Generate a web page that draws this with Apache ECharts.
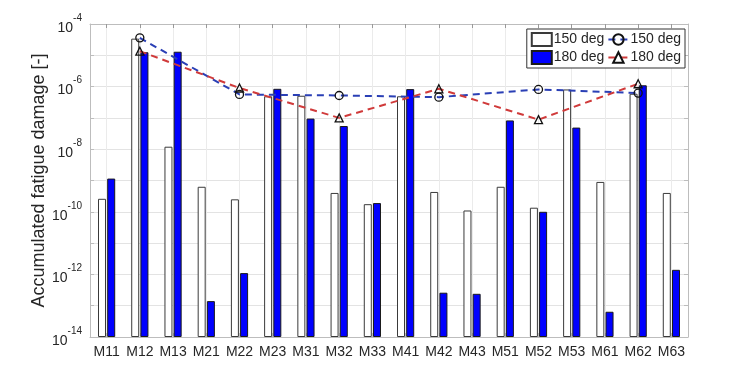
<!DOCTYPE html>
<html>
<head>
<meta charset="utf-8">
<script src="https://cdn.jsdelivr.net/npm/echarts@6/dist/echarts.min.js"></script>
<style>html,body{margin:0;padding:0;background:#fff}#c{width:729px;height:373px}</style>
</head>
<body>
<div id="c"></div>
<script>
const categories = ['M11','M12','M13','M21','M22','M23','M31','M32','M33','M41','M42','M43','M51','M52','M53','M61','M62','M63'];
const bar150 = [2.6e-10, 3.4e-5, 1.2e-8, 6.3e-10, 2.5e-10, 4.9e-7, 5.1e-7, 4.0e-10, 1.75e-10, 4.9e-7, 4.3e-10, 1.1e-10, 6.3e-10, 1.35e-10, 8.1e-7, 9.0e-10, 5.9e-7, 4.0e-10];
const bar180 = [1.15e-9, 1.25e-5, 1.3e-5, 1.4e-13, 1.1e-12, 8.5e-7, 9.5e-8, 5.5e-8, 1.9e-10, 8.3e-7, 2.6e-13, 2.4e-13, 8.3e-8, 1.0e-10, 4.9e-8, 6.4e-14, 1.1e-6, 1.4e-12];
const lineCats = ['M12','M22','M32','M42','M52','M62'];
const line150 = [3.6e-5, 5.6e-7, 5.2e-7, 4.6e-7, 8.1e-7, 6.2e-7];
const line180 = [1.35e-5, 9.0e-7, 1.0e-7, 8.5e-7, 8.8e-8, 1.23e-6];
const legendNames = {'bar150':'150 deg','line150':'150 deg','bar180':'180 deg','line180':'180 deg'};

// minor grid positions (2..9 x 10^n)
const minorGrid = [];
for (let e = -14; e < -4; e++) {
  for (let m = 2; m <= 9; m++) minorGrid.push({yAxis: m * Math.pow(10, e)});
}

const chart = echarts.init(document.getElementById('c'), null, {renderer: 'canvas'});
const font = 'Liberation Sans, Arial, Helvetica, sans-serif';
const yLabel = {
  color: '#262626', fontFamily: font, margin: 8,
  formatter: function (v) {
    const e = Math.round(Math.log10(v));
    if (e % 2 !== 0) return '';
    return '{b|10}{s|' + e + '}';
  },
  rich: {
    b: {fontSize: 14, fontFamily: font, color: '#262626', lineHeight: 22, verticalAlign: 'bottom'},
    s: {fontSize: 10, fontFamily: font, color: '#262626', lineHeight: 22, verticalAlign: 'top'}
  }
};
const yMin = 1e-14, yMax = 0.999e-4;
chart.setOption({
  animation: false,
  backgroundColor: '#fff',
  textStyle: {fontFamily: font},
  grid: {left: 90, right: 41, top: 24, bottom: 36, containLabel: false},
  legend: {
    right: 44, top: 29, width: 164, orient: 'horizontal',
    data: [{name: 'bar150', icon: 'rect'}, {name: 'line150'}, {name: 'bar180', icon: 'rect'}, {name: 'line180'}],
    formatter: function (n) { return legendNames[n]; },
    backgroundColor: '#fff', borderColor: '#333', borderWidth: 1, borderRadius: 0,
    padding: [3, 4, 3, 4], itemGap: 3, itemWidth: 20, itemHeight: 13,
    textStyle: {fontSize: 14, color: '#262626', fontFamily: font, padding: [0, 0, 0, -3]}
  },
  xAxis: [{
    type: 'category', data: categories, position: 'bottom',
    axisLine: {show: true, lineStyle: {color: '#bdbdbd'}},
    axisTick: {show: true, inside: true, alignWithLabel: true, length: 4, lineStyle: {color: '#bdbdbd'}},
    axisLabel: {color: '#262626', fontSize: 14, fontFamily: font, margin: 8, interval: 0},
    splitLine: {show: true, alignWithLabel: true, lineStyle: {color: '#ebebeb'}}
  }, {
    type: 'category', data: categories, position: 'top',
    axisLine: {show: true, lineStyle: {color: '#bdbdbd'}},
    axisTick: {show: true, inside: true, alignWithLabel: true, length: 4, lineStyle: {color: '#999'}},
    axisLabel: {show: false}, splitLine: {show: false}
  }],
  yAxis: [{
    type: 'log', logBase: 10, min: yMin, max: yMax, startValue: yMin, splitNumber: 10,
    name: 'Accumulated fatigue damage [-]', nameLocation: 'middle', nameGap: 42, nameMoveOverlap: false,
    nameTextStyle: {fontSize: 18, color: '#262626', fontFamily: font},
    axisLine: {show: true, lineStyle: {color: '#bdbdbd'}},
    axisTick: {show: true, inside: true, length: 4, lineStyle: {color: '#bdbdbd'}},
    axisLabel: yLabel,
    splitLine: {show: true, lineStyle: {color: '#e3e3e3'}}
  }, {
    type: 'log', logBase: 10, min: yMin, max: yMax, splitNumber: 10, position: 'right',
    axisLine: {show: true, lineStyle: {color: '#bdbdbd'}},
    axisTick: {show: true, inside: true, length: 4, lineStyle: {color: '#bdbdbd'}},
    axisLabel: {show: false}, splitLine: {show: false}
  }],
  series: [{
    type: 'line', name: 'grid', data: [], z: 0, silent: true,
    markLine: {silent: true, symbol: 'none', label: {show: false},
      lineStyle: {color: '#f2f2f2', type: 'solid', width: 1}, data: minorGrid}
  }, {
    type: 'bar', name: 'bar150', data: bar150, barWidth: 8, barGap: '15%', z: 2,
    itemStyle: {color: '#ffffff', borderColor: '#3a3a3a', borderWidth: 1}
  }, {
    type: 'bar', name: 'bar180', data: bar180, barWidth: 8, barGap: '15%', z: 2,
    itemStyle: {color: '#0000ff', borderColor: '#1a1a1a', borderWidth: 1}
  }, {
    type: 'line', name: 'line150', z: 4,
    data: lineCats.map((c, i) => [c, line150[i]]),
    symbol: 'circle', symbolSize: 8,
    lineStyle: {color: '#2a3fb5', width: 2, type: [7, 5]},
    itemStyle: {color: 'rgba(255,255,255,0)', borderColor: '#111', borderWidth: 1.3}
  }, {
    type: 'line', name: 'line180', z: 4,
    data: lineCats.map((c, i) => [c, line180[i]]),
    symbol: 'triangle', symbolSize: 8,
    lineStyle: {color: '#d03a3a', width: 2, type: [7, 5]},
    itemStyle: {color: 'rgba(255,255,255,0)', borderColor: '#111', borderWidth: 1.3}
  }]
});
</script>
</body>
</html>
